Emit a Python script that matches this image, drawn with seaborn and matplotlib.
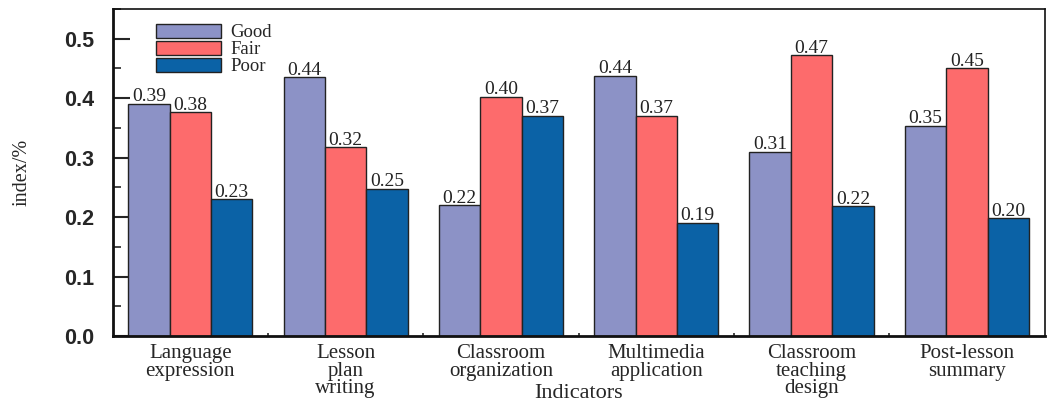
import matplotlib
matplotlib.use("Agg")
import matplotlib.pyplot as plt
from matplotlib.ticker import MultipleLocator, FixedLocator
import pandas as pd
import seaborn as sns

categories = ["Language\nexpression", "Lesson\nplan\nwriting", "Classroom\norganization",
              "Multimedia\napplication", "Classroom\nteaching\ndesign", "Post-lesson\nsummary"]
series = ["Good", "Fair", "Poor"]
good = [0.39, 0.435, 0.22, 0.437, 0.31, 0.353]
fair = [0.376, 0.317, 0.402, 0.37, 0.472, 0.45]
poor = [0.23, 0.247, 0.37, 0.19, 0.218, 0.198]
labels = {
    "Good": ["0.39", "0.44", "0.22", "0.44", "0.31", "0.35"],
    "Fair": ["0.38", "0.32", "0.40", "0.37", "0.47", "0.45"],
    "Poor": ["0.23", "0.25", "0.37", "0.19", "0.22", "0.20"],
}
colors = ["#8c92c6", "#fd6b6c", "#0b62a6"]

df = pd.DataFrame({
    "Indicators": categories * 3,
    "Group": [s for s in series for _ in categories],
    "value": good + fair + poor,
})

sns.set_theme(style="ticks")
plt.rcParams["font.family"] = ["Liberation Serif", "DejaVu Serif"]

fig = plt.figure(figsize=(10.53, 4.01), dpi=100)
ax = fig.add_axes([0.107, 0.162, 0.885, 0.816])

sns.barplot(data=df, x="Indicators", y="value", hue="Group", hue_order=series,
            palette=colors, saturation=1, width=0.8, edgecolor="#222222",
            linewidth=1.0, ax=ax, legend=True)

for cont, s in zip(ax.containers, series):
    ax.bar_label(cont, labels=labels[s], padding=-1, fontsize=14,
                 family="Liberation Serif", color="#222222")

ax.set_ylim(0, 0.55)
ax.set_xlim(-0.5, 5.5)
ax.yaxis.set_minor_locator(MultipleLocator(0.05))
ax.xaxis.set_minor_locator(FixedLocator([0.5, 1.5, 2.5, 3.5, 4.5]))
ax.set_yticks([0.0, 0.1, 0.2, 0.3, 0.4, 0.5])
ax.set_yticklabels(["0.0", "0.1", "0.2", "0.3", "0.4", "0.5"],
                   family="Liberation Sans", fontsize=15.5, fontweight="bold")
ax.tick_params(axis="y", which="major", direction="in", length=12, width=1.5, pad=13)
ax.tick_params(axis="y", which="minor", direction="in", length=6, width=1.2)
ax.tick_params(axis="x", which="major", direction="in", length=5, width=1.5, pad=6,
               labelsize=15)
ax.tick_params(axis="x", which="minor", direction="in", length=2, width=1.2)
for lab in ax.get_xticklabels():
    lab.set_linespacing(0.88)

ax.set_xlabel("Indicators", fontsize=16, va="top")
ax.xaxis.set_label_coords(0.5, -0.146)
ax.set_ylabel("index/%", fontsize=14.5)
ax.yaxis.set_label_coords(-0.087, 0.5)

for side in ["left", "bottom"]:
    ax.spines[side].set_linewidth(2.0)
for side in ["top", "right"]:
    ax.spines[side].set_linewidth(1.2)
for sp in ax.spines.values():
    sp.set_color("#111111")

handles, lbls = ax.get_legend_handles_labels()
ax.legend(handles, lbls, loc="upper left", bbox_to_anchor=(0.03, 1.0),
          frameon=False, fontsize=13.5, handlelength=3.5, handleheight=0.75,
          labelspacing=-0.02, handletextpad=0.5, borderpad=0.3)

fig.savefig("out.png", dpi=100)
